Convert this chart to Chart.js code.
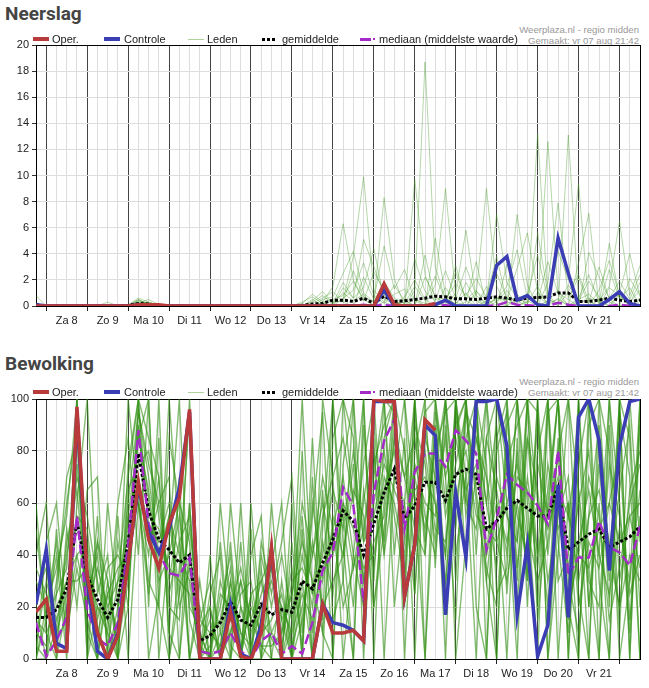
<!DOCTYPE html>
<html>
<head>
<meta charset="utf-8">
<script src="https://cdn.jsdelivr.net/npm/chart.js@4/dist/chart.umd.min.js"></script>
<style>
  body { margin: 0; background: #fff; width: 649px; height: 688px; position: relative; overflow: hidden; font-family: "Liberation Sans", Arial, sans-serif; }
  .titel { position: absolute; left: 5px; font: bold 19px Roboto, "Liberation Sans", sans-serif; color: #444; line-height: 20px; }
  .bron { position: absolute; right: 10px; font-size: 9.6px; color: #999; text-align: right; line-height: 11px; white-space: nowrap; }
  .lg { position: absolute; font-size: 11px; color: #222; line-height: 12px; white-space: nowrap; }
  .ic { position: absolute; }
  canvas { position: absolute; left: 0; }
</style>
</head>
<body>
<div class="titel" style="top:4px">Neerslag</div>
<div class="bron" style="top:24px">Weerplaza.nl - regio midden<br>Gemaakt: vr 07 aug 21:42</div>
<canvas id="neerslag" width="649" height="296" style="top:35px"></canvas>

<div class="titel" style="top:354px">Bewolking</div>
<div class="bron" style="top:376px">Weerplaza.nl - regio midden<br>Gemaakt: vr 07 aug 21:42</div>
<canvas id="bewolking" width="649" height="295" style="top:389px"></canvas>

<script>
// tijd in uren vanaf za 8 aug 00:00, stappen van 6 uur
var startUur = -6, eindUur = 348, stap = 6;
var uren = [];
for (var t = startUur; t <= eindUur; t += stap) uren.push(t);

var dagen = ['Za 8', 'Zo 9', 'Ma 10', 'Di 11', 'Wo 12', 'Do 13', 'Vr 14', 'Za 15', 'Zo 16', 'Ma 17', 'Di 18', 'Wo 19', 'Do 20', 'Vr 21'];

// ---- Neerslag (mm) ----
var neerslagOper = [0,0,0,0,0,0,0,0,0,0,0.1,0.1, 0.1,0,0,0,0,0,0,0,0,0,0,0, 0,0,0,0,0,0,0,0,0,0,1.7,0.1, 0,0,0,0.2];
var neerslagControle = [0.1,0,0,0,0,0,0,0,0,0,0.1,0.1, 0,0,0,0,0,0,0,0,0,0,0,0, 0,0,0,0,0,0,0,0,0,0,1.2,0, 0,0,0,0.1,0.45,0,0,0,0,3.1,3.8,0.45, 0.8,0.1,0,5.2,2.5,0,0,0,0.5,1.1,0.2,0];
var neerslagGem = [0.1,0,0,0,0,0,0,0,0,0.05,0.2,0.15, 0.05,0,0,0,0,0,0,0,0,0,0,0, 0,0,0.05,0.15,0.2,0.45,0.45,0.35,0.6,0.2,0.75,0.35, 0.4,0.5,0.6,0.75,0.7,0.55,0.55,0.5,0.6,0.7,0.6,0.45, 0.6,0.65,0.7,1.0,1.0,0.35,0.35,0.45,0.6,0.45,0.35,0.45];
var neerslagMediaan = [0,0,0,0,0,0,0,0,0,0,0.05,0, 0,0,0,0,0,0,0,0,0,0,0,0, 0,0,0,0,0,0,0.05,0,0.1,0,0.1,0, 0,0,0.05,0.1,0.05,0,0,0,0,0.05,0.3,0.1, 0.05,0,0,0.25,0.1,0,0,0,0,0.1,0,0];
var neerslagLeden = [
  [0.8,0,0,0,0,0,0,0,0,0,0.4,0.2, 0.1,0,0,0,0,0,0,0,0,0,0,0, 0,0,0.2,0.9,0.3,1.5,6.3,2.0,0.5,0,0.8,0.3, 0,1.2,18.7,3.0,0.5,0,1.8,0.4,0,2.5,0.6,0, 0.3,1.5,0,4.2,2.0,9.4,0,1.2,3.5,0.8,0,0.6],
  [0,0,0,0,0,0,0,0,0,0.1,0.6,0.3, 0,0,0,0,0,0,0,0,0,0,0,0, 0,0,0,0.4,1.1,0.2,0.5,3.8,9.9,1.2,0.3,0, 0.5,0,2.2,0.8,0,3.1,0.4,0,1.5,0.2,0,0.9, 0,13.2,0.6,0,1.1,2.4,0.4,0,2.8,0.5,1.4,0],
  [0,0,0,0,0,0,0,0.3,0,0,0.5,0.1, 0,0,0,0,0,0,0,0,0,0,0,0, 0,0,0.1,0,0.5,0.7,2.5,4.2,1.0,0.3,8.3,2.1, 0,0.6,0,5.2,0.9,0,0.3,3.4,0,0.7,0,7.0, 1.6,0,12.6,0.9,0,0.4,0.3,3.0,0.5,0,0.2,1.8],
  [0.2,0,0,0,0,0,0,0,0,0,0.3,0, 0,0.1,0,0,0,0,0,0,0,0,0,0, 0,0,0.3,0.7,0.2,0,1.4,0.6,5.1,3.0,0.9,0.4, 0,9.7,2.4,0.2,0,1.0,5.8,0.6,0,0.3,1.2,0, 0.4,0,1.8,7.9,0.6,2.2,0,0.5,0,1.0,4.0,0.7],
  [0,0,0,0,0,0,0,0,0,0,0.2,0.5, 0.1,0,0,0,0,0,0,0,0,0,0,0, 0,0,0,0.2,0.6,1.1,0.3,0,2.2,0.5,4.6,1.3, 2.8,0.4,0,1.6,9.0,0.8,0,1.1,0.5,0,3.2,0.4, 0,5.6,0.9,0,13.1,0.4,1.9,0.7,0.3,0,2.1,0.8],
  [0,0,0,0,0,0,0,0,0,0,0.4,0.2, 0,0,0,0,0,0,0,0,0,0,0,0, 0,0,0,0,0.3,0.5,0.8,1.9,0.4,2.6,1.2,0, 0.7,2.0,0.5,0,1.4,0.3,0,0.9,9.0,1.5,0,0.6, 0.2,1.0,0,0.6,0,3.3,7.1,0,1.4,0.8,0,0.5],
  [0,0,0,0,0,0,0,0,0,0,0.1,0.3, 0,0,0.1,0,0,0,0,0,0,0,0,0, 0,0,0,0.5,0,0.2,1.0,0.4,0.9,0,0.3,1.6, 0.4,0,3.9,0.5,0.6,0.2,1.0,0,0.4,7.0,1.8,0.6, 0.9,0,0.4,1.2,0,0.6,2.4,0.3,0,0.9,0.3,0],
  [0,0,0,0,0,0,0,0,0,0,0,0, 0,0,0,0,0,0,0,0,0,0,0,0, 0,0,0,0,0.2,0,0.6,1.2,3.3,0.8,0.2,0.9, 1.3,0.5,0.2,0,0.3,2.6,0.5,1.2,0,0.6,0.4,2.9, 5.6,1.1,0.2,0.5,0,0.2,0.6,0.4,1.5,6.5,0.8,3.1],
  [0,0,0,0,0,0,0,0,0,0,0.2,0, 0,0,0,0,0,0,0,0,0,0,0,0, 0,0,0,0.3,0.8,0.2,1.8,0.6,1.4,4.4,0.5,0.2, 0.3,3.6,1.1,0.4,2.7,0.6,3.0,0.8,0.2,0.5,1.5,4.3, 0.6,0.3,3.4,1.0,0.5,0,4.1,2.2,0.6,1.9,0.5,2.4],
  [0,0,0,0,0,0,0,0,0,0,0.5,0.1, 0,0,0,0,0,0,0,0,0,0,0,0, 0,0,0,0,0.2,0.4,0.3,2.7,0.7,0.3,1.9,0.6, 0.2,1.5,0.4,2.3,0.5,1.7,0.8,2.1,0.7,3.8,0.3,0.2, 0.8,3.9,0.5,0.2,1.6,0.5,0.9,0.2,4.8,0.6,0.3,1.2]
];

// ---- Bewolking (%) ----
var bewolkingOper = [18,23,3,3,97,32,10,0,9,37,68,46, 35,52,62,96,0,0,0,18,1,0,10,43, 0,0,0,0,21,10,10,11,7,100,99,99, 24,44,92,88];
var bewolkingControle = [21,42,6,4,95,30,3,0,10,38,66,49, 41,50,66,95,0,0,0,21,2,0,13,42, 0,0,0,0,21,14,13,11,7,99,99,99, 24,44,90,86,17,64,39,99,99,100,82,17, 44,1,13,67,16,93,100,84,34,82,99,100];
var bewolkingGem = [16,16,19,27,53,32,23,16,23,45,79,57, 46,42,37,40,7,9,14,22,15,13,21,17, 19,18,30,27,37,46,57,53,40,52,64,73, 54,59,68,68,61,71,73,71,50,53,58,61, 58,55,55,66,42,45,48,50,43,45,47,51];
var bewolkingMediaan = [14,1,7,16,55,19,8,5,14,44,88,52, 41,33,32,39,3,2,3,10,3,0,7,10, 2,5,2,14,34,41,66,59,22,64,84,92, 50,72,79,79,74,88,84,79,42,54,71,67, 64,59,52,80,32,39,39,53,43,41,36,51];
var bewolkingLeden = [
  [10,5,30,60,88,40,12,0,20,60,95,70, 40,55,20,35,0,0,5,30,10,0,15,8, 0,12,40,20,55,70,85,60,30,75,90,100, 80,40,95,100,70,88,100,60,35,20,75,90, 100,60,20,85,30,10,55,90,40,20,65,80],
  [25,35,8,15,40,20,45,30,5,30,70,45, 60,30,55,20,12,20,0,10,25,30,5,0, 30,0,15,45,20,30,40,65,55,20,50,85, 45,70,50,80,95,100,55,85,70,45,30,60, 35,80,100,45,10,65,30,20,75,55,25,40],
  [5,0,12,40,70,55,30,10,45,20,88,62, 30,40,60,45,0,5,20,40,0,25,30,40, 10,35,5,60,30,50,70,40,20,60,80,55, 30,90,75,45,100,60,85,100,40,80,95,35, 70,40,65,100,55,85,20,75,30,65,90,20],
  [30,20,45,10,35,15,0,25,10,55,60,40, 70,20,15,60,5,0,30,15,30,5,40,20, 40,15,55,10,45,25,60,35,50,80,40,70, 60,25,85,70,40,95,60,50,85,65,40,100, 50,30,45,80,20,40,70,55,15,35,60,75],
  [0,15,25,35,90,25,40,5,30,70,100,50, 45,60,25,50,15,30,10,0,20,10,25,35, 15,25,45,30,10,55,40,75,30,45,55,90, 70,50,40,90,55,75,95,65,30,70,55,45, 85,65,30,55,70,20,45,35,60,80,15,55],
  [20,40,10,25,55,50,15,35,40,30,85,65, 35,55,40,30,0,10,15,35,5,20,10,15, 25,5,20,40,60,40,55,20,65,35,70,60, 40,75,60,55,85,40,70,90,60,35,80,55, 40,90,55,70,35,60,80,40,25,50,30,65],
  [15,10,20,30,30,35,20,15,0,65,75,80, 55,25,45,55,10,0,25,20,35,15,30,10, 5,30,35,25,40,65,50,80,45,55,75,65, 55,60,80,50,45,85,65,75,40,60,45,70, 65,35,75,50,60,30,55,65,45,20,40,30],
  [35,25,5,45,65,20,35,20,30,40,90,55, 50,35,30,25,5,15,0,25,10,5,20,30, 20,10,25,15,35,45,60,50,35,40,65,80, 50,65,70,60,30,70,80,55,50,45,60,75, 45,60,50,65,55,40,35,50,60,45,55,60],
  [0,45,60,15,100,5,55,0,15,100,60,25, 85,10,70,0,20,0,45,5,0,60,10,45, 0,60,0,85,15,100,30,0,100,20,60,100, 30,100,0,95,70,15,100,100,30,0,100,45, 100,15,60,100,0,100,35,0,100,60,10,95],
  [0,0,50,5,100,10,0,30,0,20,100,85, 70,10,0,60,0,25,40,0,45,0,0,35, 60,0,80,0,50,100,45,0,90,30,100,95, 20,100,40,100,25,100,35,100,0,85,100,30, 100,20,95,100,0,75,100,0,90,10,100,45],
  [40,60,0,50,20,65,70,0,55,0,60,30, 20,85,60,0,30,0,10,45,0,40,55,0, 0,45,0,70,10,0,100,85,20,100,40,100, 100,25,100,35,100,50,100,40,100,25,35,100, 20,100,40,80,100,25,0,100,35,100,0,90],
  [20,0,25,70,85,0,45,15,60,85,40,100, 0,45,100,15,0,20,0,60,20,0,45,25, 45,70,10,55,95,15,30,100,0,70,100,40, 85,0,90,60,40,100,60,100,75,0,90,100, 60,0,100,30,40,100,20,60,0,95,70,0],
  [50,15,40,0,60,100,25,40,0,75,100,20, 100,0,35,95,0,0,60,20,0,50,0,10, 20,0,50,0,0,85,100,60,100,0,85,100, 0,80,100,100,60,90,100,20,0,100,60,0, 100,95,0,60,20,0,90,100,80,0,30,100],
  [5,30,15,30,40,45,10,25,35,40,95,75, 60,70,0,40,15,10,5,10,30,15,5,5, 10,25,60,40,70,50,20,35,60,90,45,85, 70,85,55,40,90,30,95,85,60,90,25,80, 30,75,55,100,15,45,65,40,100,30,55,35],
  [60,10,0,20,75,30,0,60,20,35,70,0, 25,100,45,0,0,40,0,0,60,0,35,0, 0,20,100,25,65,0,75,100,45,85,0,70, 100,60,0,75,100,0,45,70,100,60,0,85, 30,100,0,40,100,65,0,85,20,100,85,0],
  [0,20,35,55,100,0,20,10,0,55,85,100, 20,0,25,100,10,0,0,30,0,25,0,60, 15,0,30,0,100,70,0,40,75,100,100,20, 60,100,45,85,0,100,70,0,85,100,75,20, 85,40,100,0,60,0,100,30,0,100,0,100]
];

var kleurOper = '#b83a3a';
var kleurControle = '#3a3db3';
var kleurGem = '#000';
var kleurMediaan = '#a52bc8';

function lijn(label, waarden, kleur, dikte, streep) {
  return {
    label: label,
    data: waarden.map(function (v, i) { return { x: uren[i], y: v }; }),
    borderColor: kleur,
    borderWidth: dikte,
    borderDash: streep || [],
    pointRadius: 0,
    fill: false,
    tension: 0
  };
}

function maakSets(oper, controle, mediaan, gem, leden, ledenKleur, ledenDikte) {
  var sets = [
    lijn('Oper.', oper, kleurOper, 3.5),
    lijn('Controle', controle, kleurControle, 3.5),
    lijn('mediaan (middelste waarde)', mediaan, kleurMediaan, 2.5, [10, 4]),
    lijn('gemiddelde', gem, kleurGem, 3, [3, 2])
  ];
  leden.forEach(function (lid) { sets.push(lijn('Leden', lid, ledenKleur, ledenDikte)); });
  return sets;
}

var tickFont = { family: '"Liberation Sans", Arial, sans-serif', size: 11 };

function maakGrafiek(id, yMax, yStap, sets) {
  return new Chart(document.getElementById(id), {
    type: 'line',
    data: { datasets: sets },
    options: {
      responsive: false,
      animation: false,
      devicePixelRatio: 1,
      layout: { padding: { top: 10, right: 9, left: 0, bottom: 0 } },
      plugins: { legend: { display: false }, tooltip: { enabled: false } },
      scales: {
        x: {
          type: 'linear', min: startUur, max: eindUur,
          afterFit: function (s) { s.height = 25; },
          border: { color: '#000' },
          grid: {
            lineWidth: 1, tickLength: 5,
            color: function (c) {
              var v = c.tick.value;
              if (v === eindUur) return '#000';
              return v % 24 === 0 ? '#444' : '#ddd';
            },
            tickColor: function (c) {
              return c.tick.value % 24 === 0 ? '#222' : 'rgba(0,0,0,0)';
            }
          },
          ticks: {
            stepSize: stap, autoSkip: false, maxRotation: 0, minRotation: 0,
            padding: 3, color: '#222', font: tickFont,
            callback: function (v) {
              if (((v % 24) + 24) % 24 !== 12) return '';
              return dagen[(v - 12) / 24] || '';
            }
          }
        },
        y: {
          min: 0, max: yMax,
          afterFit: function (s) { s.width = 36; },
          border: { color: '#000' },
          grid: {
            tickLength: 4, tickColor: '#333',
            color: function (c) { return c.tick.value === yMax ? '#000' : '#ddd'; }
          },
          ticks: { stepSize: yStap, padding: 3, color: '#222', font: tickFont }
        }
      }
    }
  });
}

maakGrafiek('neerslag', 20, 2, maakSets(neerslagOper, neerslagControle, neerslagMediaan, neerslagGem, neerslagLeden, 'rgba(70,155,40,0.4)', 1));
maakGrafiek('bewolking', 100, 20, maakSets(bewolkingOper, bewolkingControle, bewolkingMediaan, bewolkingGem, bewolkingLeden, 'rgba(50,145,20,0.6)', 1.4));

// legenda als html boven elke grafiek
function legenda(cy) {
  var items = [
    { tekst: 'Oper.', tx: 52, iconen: [{ x: 33, w: 16, h: 4, css: 'background:' + kleurOper }] },
    { tekst: 'Controle', tx: 124, iconen: [{ x: 104, w: 16, h: 4, css: 'background:' + kleurControle }] },
    { tekst: 'Leden', tx: 207, iconen: [{ x: 188, w: 16, h: 1, css: 'background:rgb(175,212,155)' }] },
    { tekst: 'gemiddelde', tx: 282, iconen: [{ x: 262, w: 14, h: 3, css: 'background:repeating-linear-gradient(90deg,#000 0 3px,transparent 3px 5px)' }] },
    { tekst: 'mediaan (middelste waarde)', tx: 379, iconen: [
      { x: 360, w: 11, h: 3, css: 'background:' + kleurMediaan },
      { x: 373, w: 2, h: 2, css: 'background:' + kleurMediaan }
    ] }
  ];
  items.forEach(function (it) {
    it.iconen.forEach(function (ic) {
      var d = document.createElement('div');
      d.className = 'ic';
      d.style.cssText = 'left:' + ic.x + 'px;top:' + (cy - ic.h / 2) + 'px;width:' + ic.w + 'px;height:' + ic.h + 'px;' + ic.css;
      document.body.appendChild(d);
    });
    var s = document.createElement('div');
    s.className = 'lg';
    s.style.left = it.tx + 'px';
    s.style.top = (cy - 6) + 'px';
    s.textContent = it.tekst;
    document.body.appendChild(s);
  });
}
legenda(39);
legenda(392);
</script>
</body>
</html>
